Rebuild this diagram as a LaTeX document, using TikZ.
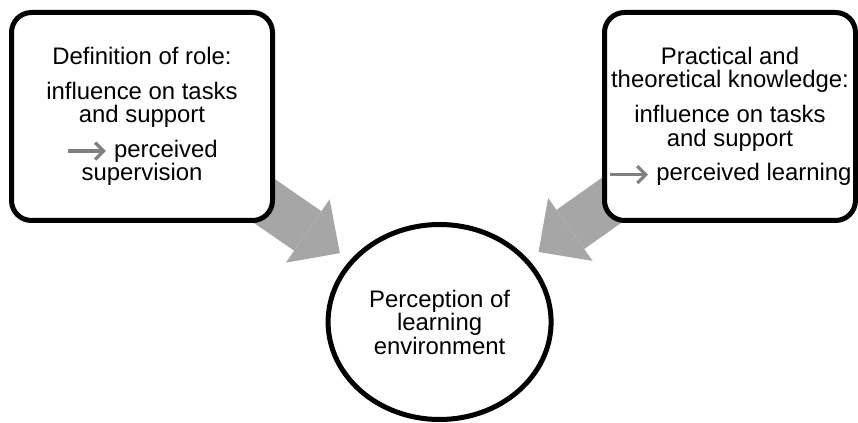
\documentclass[tikz,border=0pt]{standalone}
\usepackage{fontspec}
\usepackage{tikz}
\usepackage{xcolor}
\setmainfont{Liberation Sans}
\usetikzlibrary{shapes.geometric, arrows.meta, positioning, backgrounds}
\definecolor{Block_Gray}{HTML}{A6A6A6}
\definecolor{Pointer_Gray}{HTML}{808080}

\newcommand{\pointer}{\tikz[baseline=-0.5ex]\draw[draw=Pointer_Gray, line width=2.3pt, -{Straight Barb[length=6pt, width=12pt]}] (0,0) -- (0.95,0);}

\begin{document}
\begin{tikzpicture}[
    box/.style={draw=black, fill=white, line width=0.125cm, rounded corners=0.5cm, minimum height=5.2cm, inner sep=0pt, align=center, font=\fontsize{17}{16.7}\selectfont},
    bubble/.style={ellipse, draw=black, fill=white, line width=0.125cm, minimum width=5.575cm, minimum height=4.875cm, inner sep=0pt, align=center, font=\fontsize{17}{16.7}\selectfont},
    block/.style={draw=Block_Gray, line width=1.2cm, shorten >=3.03cm, -{Triangle[length=0.975cm, width=1.925cm, line width=0pt]}}
]
\useasboundingbox (0,0) rectangle (21.45,10.575);

\node[box, minimum width=6.525cm] (role) at (3.55, 7.6625) {Definition of role:\\[8pt]
    influence on tasks\\ and support\\[8pt]
    \pointer\ perceived\hspace*{0.93cm}\\ supervision};
\node[box, minimum width=6.275cm] (know) at (18.25, 7.6625) {Practical and\\ theoretical knowledge:\\[8pt]
    influence on tasks\\ and support\\[8pt]
    \pointer\ perceived learning};
\node[bubble] (env) at (10.99, 2.525) {Perception of\\ learning\\ environment};

% Block arrows behind the boxes
\begin{scope}[on background layer]
\draw[block] (role.center) -- (env.center);
\draw[block] (know.center) -- (env.center);
\end{scope}
\end{tikzpicture}
\end{document}
